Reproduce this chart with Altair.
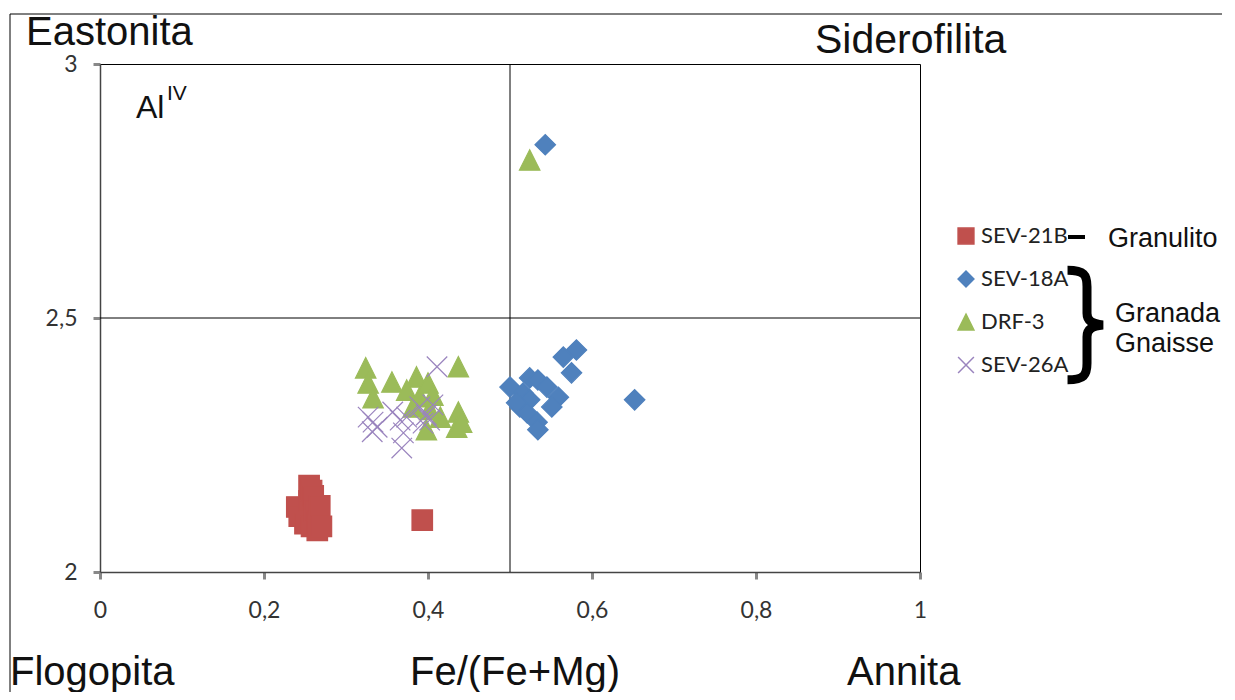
import altair as alt
import pandas as pd

series_names = ["SEV-21B", "SEV-18A", "DRF-3", "SEV-26A"]

sev21b_x = [0.240, 0.243, 0.250, 0.255, 0.255, 0.258, 0.258, 0.260, 0.262, 0.265, 0.265, 0.268, 0.270, 0.393]
sev21b_y = [2.128, 2.110, 2.095, 2.170, 2.140, 2.160, 2.090, 2.150, 2.120, 2.100, 2.082, 2.130, 2.090, 2.102]

sev18a_x = [0.543, 0.581, 0.565, 0.575, 0.500, 0.524, 0.534, 0.545, 0.559, 0.551, 0.516, 0.512, 0.524, 0.521, 0.533, 0.534, 0.508, 0.652]
sev18a_y = [2.841, 2.437, 2.423, 2.392, 2.364, 2.382, 2.378, 2.364, 2.344, 2.325, 2.352, 2.325, 2.339, 2.313, 2.295, 2.280, 2.333, 2.339]

drf3_x = [0.524, 0.324, 0.327, 0.333, 0.356, 0.386, 0.374, 0.390, 0.400, 0.406, 0.437, 0.398, 0.415, 0.437, 0.435, 0.441, 0.382, 0.402]
drf3_y = [2.811, 2.402, 2.372, 2.343, 2.374, 2.384, 2.358, 2.345, 2.372, 2.348, 2.404, 2.280, 2.305, 2.315, 2.285, 2.295, 2.325, 2.320]

sev26a_x = [0.327, 0.333, 0.338, 0.332, 0.357, 0.366, 0.370, 0.368, 0.374, 0.390, 0.398, 0.406, 0.411, 0.402, 0.394]
sev26a_y = [2.305, 2.295, 2.285, 2.276, 2.315, 2.299, 2.274, 2.244, 2.305, 2.325, 2.309, 2.329, 2.404, 2.299, 2.293]

x_ticks = [0, 0.2, 0.4, 0.6, 0.8, 1]
y_ticks = [2, 2.5, 3]
grid_x = [0.5]
grid_y = [2.5]

colors = ["#C0504D", "#4F81BD", "#9BBB59", "#9A84BE"]
shapes = ["square", "diamond", "M0,-1L1,1L-1,1Z", "M-1,-1L1,1M1,-1L-1,1"]
BRACE = ("M-0.33,-0.93 C-0.05,-0.93 0,-0.85 0,-0.65 L0,-0.2 C0,-0.07 0.08,-0.02 0.27,0 "
         "C0.08,0.02 0,0.07 0,0.2 L0,0.65 C0,0.85 -0.05,0.93 -0.33,0.93")

rows = []
for name, xs, ys in [("SEV-21B", sev21b_x, sev21b_y), ("SEV-18A", sev18a_x, sev18a_y),
                     ("DRF-3", drf3_x, drf3_y), ("SEV-26A", sev26a_x, sev26a_y)]:
    for xv, yv in zip(xs, ys):
        rows.append({"serie": name, "fe": xv, "al": yv})
df = pd.DataFrame(rows)

CAL = "Lato, Open Sans, sans-serif"
ARIAL = "Liberation Sans, Arial, sans-serif"

xscale = alt.Scale(domain=[0, 1], nice=False, zero=False)
yscale = alt.Scale(domain=[2, 3], nice=False, zero=False)
comma = "replace(toString(datum.value), '.', ',')"

leg = alt.Legend(title=None, orient="none", legendX=855, legendY=161,
                 labelFont=CAL, labelFontSize=22, labelColor="#222",
                 symbolSize=250, rowPadding=21, labelOffset=4, symbolStrokeWidth=1.5)

points = alt.Chart(df).mark_point(filled=True, size=420, opacity=1, strokeWidth=1.2).encode(
    x=alt.X("fe:Q", scale=xscale,
            axis=alt.Axis(values=x_ticks, labelExpr=comma, title=None, grid=False,
                          labelPadding=20, tickSize=7, labelFlush=False)),
    y=alt.Y("al:Q", scale=yscale,
            axis=alt.Axis(values=y_ticks, labelExpr=comma, title=None, grid=False,
                          labelPadding=16, tickSize=7, labelFlush=False)),
    fill=alt.Fill("serie:N", scale=alt.Scale(domain=series_names, range=colors), legend=leg),
    stroke=alt.Stroke("serie:N", scale=alt.Scale(domain=series_names, range=colors), legend=leg),
    shape=alt.Shape("serie:N", scale=alt.Scale(domain=series_names, range=shapes), legend=leg),
)

vline = alt.Chart(pd.DataFrame({"x": grid_x})).mark_rule(color="black", strokeWidth=1).encode(
    x=alt.X("x:Q", scale=xscale))
hline = alt.Chart(pd.DataFrame({"y": grid_y})).mark_rule(color="black", strokeWidth=1).encode(
    y=alt.Y("y:Q", scale=yscale))

one = alt.Data(values=[{"k": 1}])
frame_top = alt.Chart(one).mark_rule(color="black", strokeWidth=1).encode(
    x=alt.value(-90), x2=alt.value(1122), y=alt.value(-50))
frame_left = alt.Chart(one).mark_rule(color="black", strokeWidth=1).encode(
    x=alt.value(-90), y=alt.value(-50), y2=alt.value(640))
dash = alt.Chart(one).mark_rule(color="black", strokeWidth=4).encode(
    x=alt.value(968), x2=alt.value(985), y=alt.value(173))
brace = alt.Chart(one).mark_point(shape=BRACE, size=13924, filled=False, opacity=1,
                                  stroke="black", strokeWidth=9, strokeCap="butt").encode(
    x=alt.value(987), y=alt.value(261))


def label(txt, x, y, size, font=ARIAL, baseline="alphabetic", align="left"):
    return alt.Chart(alt.Data(values=[{"t": txt}])).mark_text(
        font=font, fontSize=size, color="#111",
        align=align, baseline=baseline).encode(
        text="t:N", x=alt.value(x), y=alt.value(y))


texts = [
    label("Eastonita", -74, -19, 40),
    label("Siderofilita", 715, -11, 41),
    label("Flogopita", -90, 621, 40),
    label("Fe/(Fe+Mg)", 310, 621, 40),
    label("Annita", 747, 621, 40),
    label("Al", 36, 54, 32),
    label("IV", 67, 36, 21),
    label("Granulito", 1008, 183, 27),
    label("Granada", 1015, 258, 27),
    label("Gnaisse", 1015, 288, 27),
]

chart = alt.layer(vline, hline, points, frame_top, frame_left, dash, brace, *texts).properties(
    width=820, height=508,
    autosize=alt.AutoSizeParams(type="none"),
    padding={"left": 92, "top": 56, "right": 307, "bottom": 120},
).configure_view(stroke="black", strokeWidth=1).configure_axis(
    domainColor="#444", domainWidth=1.5, tickColor="#888", tickWidth=3,
    labelFont=CAL, labelFontSize=23, labelColor="#333",
)

chart.save("out.html", embed_options={"renderer": "svg", "actions": False})
